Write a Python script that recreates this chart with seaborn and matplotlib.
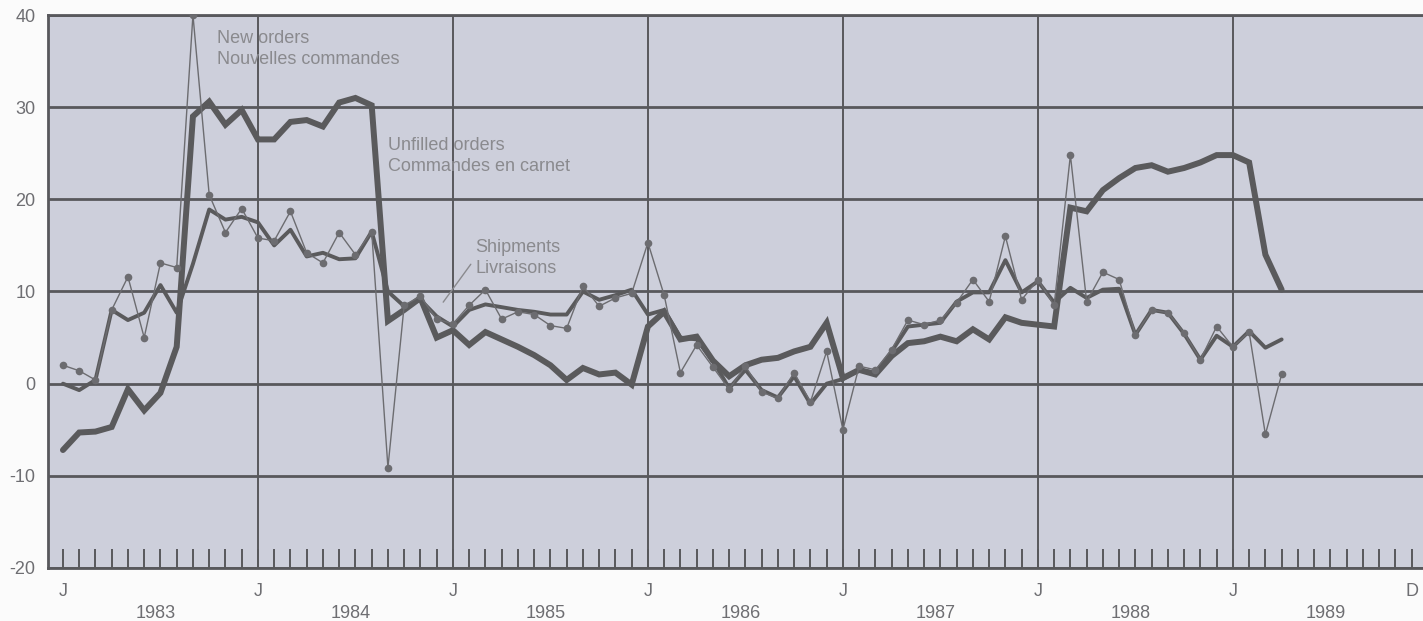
import numpy as np
import pandas as pd
import matplotlib
matplotlib.use("Agg")
import matplotlib.pyplot as plt
import matplotlib.transforms as mtransforms
import seaborn as sns

# Monthly % change, Jan 1983 .. Apr 1989 (month index 0 = Jan 1983)
new_orders = [2, 1.4, 0.4, 8, 11.6, 5, 13.1, 12.6, 40, 20.5, 16.4, 19,
              15.8, 15.5, 18.7, 14.2, 13.1, 16.4, 14, 16.5, -9.1, 8.5, 9.5, 7,
              6.5, 8.5, 10.2, 7, 7.8, 7.5, 6.3, 6, 10.6, 8.4, 9.3, 9.8,
              15.3, 9.6, 1.2, 4.2, 1.8, -0.6, 1.9, -0.9, -1.6, 1.2, -2, 3.5,
              -5, 1.9, 1.5, 3.7, 6.9, 6.4, 6.9, 8.8, 11.3, 8.9, 16, 9.1,
              11.3, 8.5, 24.8, 8.9, 12.1, 11.3, 5.3, 8, 7.7, 5.5, 2.6, 6.2,
              4, 5.6, -5.5, 1]

shipments = [0, -0.7, 0.4, 8, 6.9, 7.7, 10.7, 7.7, 13, 18.9, 17.8, 18.1,
             17.5, 15, 16.7, 13.8, 14.2, 13.5, 13.6, 16.5, 10, 8.4, 9.1, 7.3,
             6.2, 8, 8.6, 8.3, 8, 7.8, 7.5, 7.5, 10, 9.1, 9.6, 10.2,
             7.5, 8, 5, 4.8, 2.5, -0.5, 1.5, -0.7, -1.5, 0.8, -2.2, 0,
             0.5, 1.5, 1.2, 3.5, 6.2, 6.4, 6.6, 8.9, 9.9, 9.9, 13.4, 9.9,
             11.1, 8.8, 10.4, 9.3, 10.2, 10.3, 5.3, 8, 7.7, 5.4, 2.6, 5.2,
             4, 5.7, 3.9, 4.8]

unfilled = [-7.2, -5.3, -5.2, -4.7, -0.6, -2.9, -1, 4, 29, 30.6, 28.1, 29.7,
            26.5, 26.5, 28.4, 28.6, 27.9, 30.5, 31, 30.2, 6.8, 8, 9.3, 5,
            5.8, 4.2, 5.6, 4.8, 4, 3.1, 2, 0.4, 1.7, 1, 1.2, -0.1,
            6.2, 7.8, 4.8, 5.1, 2.5, 0.8, 2, 2.6, 2.8, 3.5, 4, 6.6,
            0.6, 1.5, 1, 3, 4.4, 4.6, 5.1, 4.6, 5.9, 4.8, 7.2, 6.6,
            6.4, 6.2, 19.1, 18.7, 21, 22.3, 23.4, 23.7, 23, 23.4, 24, 24.8,
            24.8, 24, 14, 10.2]

years = ['1983', '1984', '1985', '1986', '1987', '1988', '1989']
y_ticks = [-20, -10, 0, 10, 20, 30, 40]
y_labels = ['-20', '-10', '0', '10', '20', '30', '40']

df = pd.DataFrame({
    'month': np.arange(len(unfilled)),
    'new_orders': new_orders,
    'shipments': shipments,
    'unfilled': unfilled,
})

sns.set_style("white")
plt.rcParams['font.family'] = ['Liberation Sans', 'DejaVu Sans']

BG = '#cdcfdb'
LINE = '#5a5a5c'
GRID = '#58585c'
TXT = '#8a8a8e'

fig = plt.figure(figsize=(14.23, 6.21), dpi=100, facecolor='#fbfbfb')
ax = fig.add_axes([48 / 1423, 1 - 568 / 621, (1423 - 48) / 1423, (568 - 15) / 621])
ax.set_facecolor(BG)

# grid
for v in y_ticks:
    ax.axhline(v, color=GRID, lw=2.0, zorder=1)
for k in range(1, 7):
    ax.axvline(12 * k, color=GRID, lw=1.4, zorder=1)

sns.lineplot(data=df, x='month', y='unfilled', ax=ax, color=LINE, lw=4.3,
             zorder=3, solid_joinstyle='miter')
sns.lineplot(data=df, x='month', y='shipments', ax=ax, color=LINE, lw=2.8,
             zorder=4)
sns.lineplot(data=df, x='month', y='new_orders', ax=ax, color='#6c6c70', lw=1.0,
             marker='o', markersize=5.5, markeredgewidth=0, zorder=5)

ax.set_xlim(-0.92, 83.7)
ax.set_ylim(-20, 40)
ax.set_xlabel('')
ax.set_ylabel('')

ax.set_yticks(y_ticks)
ax.set_yticklabels(y_labels, fontsize=13, color='#6e6e72')
ax.tick_params(axis='y', left=False, length=0, pad=9)

months = np.arange(84)
xlabels = ['J' if m % 12 == 0 else '' for m in months]
xlabels[83] = 'D'
ax.set_xticks(months)
ax.set_xticklabels(xlabels, fontsize=13, color='#6e6e72')
ax.tick_params(axis='x', bottom=True, direction='in', length=13.5, width=1.4,
               color=GRID, pad=11)

trans = mtransforms.blended_transform_factory(ax.transData, ax.transAxes)
for k, yr in enumerate(years):
    ax.text(12 * k + 5.7, -0.082, yr, transform=trans, ha='center', va='center',
            fontsize=13, color='#6e6e72')

for side in ['left', 'top', 'bottom']:
    ax.spines[side].set_color(GRID)
    ax.spines[side].set_linewidth(2.0)
ax.spines['right'].set_visible(False)

ax.text(9.5, 38.4, 'New orders\nNouvelles commandes', fontsize=13, color=TXT,
        va='top', ha='left', linespacing=1.3)
ax.text(20.0, 26.8, 'Unfilled orders\nCommandes en carnet', fontsize=13, color=TXT,
        va='top', ha='left', linespacing=1.3)
ax.text(25.4, 15.7, 'Shipments\nLivraisons', fontsize=13, color=TXT,
        va='top', ha='left', linespacing=1.3)
ax.annotate('', xy=(23.3, 8.6), xytext=(25.2, 13.2),
            arrowprops=dict(arrowstyle='-', color=TXT, lw=1.0))

fig.savefig('out.png', dpi=100, facecolor=fig.get_facecolor())
